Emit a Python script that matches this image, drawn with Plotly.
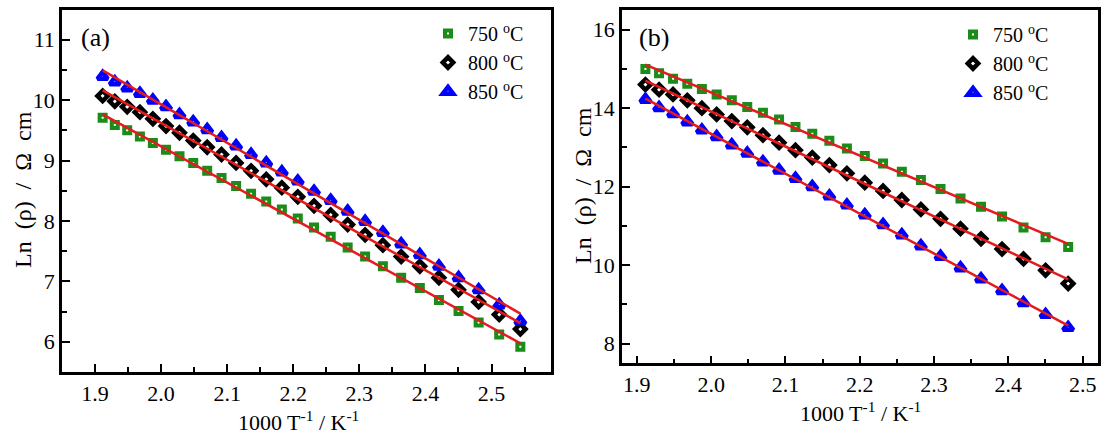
import numpy as np
import plotly.graph_objects as go

# ---- data (panel a) ----
x_a = [1.9115, 1.9299, 1.9487, 1.9679, 1.9875, 2.0074, 2.0278, 2.0486, 2.0697,
       2.0914, 2.1135, 2.1361, 2.1591, 2.1827, 2.2068, 2.2314, 2.2566, 2.2823,
       2.3087, 2.3356, 2.3632, 2.3915, 2.4204, 2.4501, 2.4805, 2.5116, 2.5436]
a_750 = [9.71, 9.59, 9.50, 9.40, 9.29, 9.18, 9.07, 8.96, 8.83, 8.71, 8.58, 8.45,
         8.32, 8.19, 8.04, 7.89, 7.74, 7.56, 7.41, 7.25, 7.06, 6.89, 6.69, 6.51,
         6.32, 6.12, 5.92]
a_800 = [10.07, 9.98, 9.89, 9.80, 9.69, 9.57, 9.46, 9.33, 9.22, 9.10, 8.96, 8.83,
         8.69, 8.55, 8.40, 8.25, 8.10, 7.94, 7.77, 7.60, 7.41, 7.25, 7.06, 6.86,
         6.66, 6.45, 6.21]
a_850 = [10.39, 10.30, 10.20, 10.11, 10.00, 9.89, 9.76, 9.64, 9.51, 9.38, 9.24,
         9.10, 8.96, 8.81, 8.66, 8.49, 8.34, 8.16, 7.99, 7.81, 7.62, 7.44, 7.25,
         7.06, 6.86, 6.61, 6.34]

# ---- data (panel b) ----
x_b = [1.9115, 1.9299, 1.9487, 1.9679, 1.9875, 2.0074, 2.0278, 2.0486, 2.0697,
       2.0914, 2.1135, 2.1361, 2.1591, 2.1827, 2.2068, 2.2314, 2.2566, 2.2823,
       2.3087, 2.3356, 2.3632, 2.3915, 2.4204, 2.4501, 2.4805]
b_750 = [15.00, 14.89, 14.75, 14.62, 14.49, 14.35, 14.20, 14.03, 13.88, 13.71,
         13.52, 13.35, 13.17, 12.97, 12.78, 12.59, 12.38, 12.17, 11.94, 11.70,
         11.49, 11.24, 10.96, 10.71, 10.46]
b_800 = [14.60, 14.47, 14.35, 14.20, 14.00, 13.84, 13.67, 13.51, 13.31, 13.12,
         12.93, 12.74, 12.55, 12.34, 12.10, 11.89, 11.66, 11.42, 11.18, 10.93,
         10.67, 10.41, 10.16, 9.87, 9.53]
b_850 = [14.22, 14.01, 13.86, 13.65, 13.44, 13.27, 13.06, 12.85, 12.63, 12.42,
         12.21, 12.00, 11.76, 11.53, 11.28, 11.03, 10.77, 10.49, 10.22, 9.93,
         9.65, 9.35, 9.04, 8.74, 8.41]

labels = ["750 <sup>o</sup>C", "800 <sup>o</sup>C", "850 <sup>o</sup>C"]
colors = ["#1a8c1a", "#000000", "#0000ff"]
symbols = ["square", "diamond", "triangle-up"]
sizes = [6, 8, 9]
lws = [4, 4.5, 4.5]

FONT = "Times New Roman, Liberation Serif, serif"
W, H = 1104, 433

fig = go.Figure()

panels = [
    ("x", "y", "legend", x_a, [a_750, a_800, a_850]),
    ("x2", "y2", "legend2", x_b, [b_750, b_800, b_850]),
]
for xa, ya, lg, xs, series in panels:
    for i, ys in enumerate(series):
        fig.add_trace(go.Scatter(
            x=xs, y=ys, mode="markers", name=labels[i], xaxis=xa, yaxis=ya,
            legend=lg,
            marker=dict(symbol=symbols[i], size=sizes[i], color="white",
                        line=dict(color=colors[i], width=lws[i]))))
    for ys in series:
        k, b = np.polyfit(xs, ys, 1)
        xe = [xs[0], xs[-1]]
        fig.add_trace(go.Scatter(
            x=xe, y=[k * v + b for v in xe], mode="lines", xaxis=xa, yaxis=ya,
            showlegend=False, line=dict(color="#e41a1c", width=2.5)))

def px_x(p):
    return p / W

def px_y(p):
    return 1 - p / H

axis_common = dict(
    showline=True, linecolor="black", linewidth=2.5, mirror=True,
    ticks="inside", ticklen=8, tickwidth=2, tickcolor="black",
    showgrid=False, zeroline=False,
    tickfont=dict(family=FONT, size=22, color="black"),
)

fig.update_layout(
    width=W, height=H, margin=dict(l=0, r=0, t=0, b=0),
    paper_bgcolor="white", plot_bgcolor="white",
    font=dict(family=FONT, color="black", size=21),
    xaxis=dict(domain=[px_x(62), px_x(551)], range=[1.85, 2.59], tick0=1.9,
               dtick=0.1, tickformat=".1f", anchor="y",
               minor=dict(ticks="inside", ticklen=5, tickwidth=2, dtick=0.05,
                          tick0=1.9, tickcolor="black"),
               **axis_common),
    yaxis=dict(domain=[px_y(372), px_y(9.5)], range=[5.5, 11.5], dtick=1,
               anchor="x",
               minor=dict(ticks="inside", ticklen=5, tickwidth=2, dtick=0.5,
                          tickcolor="black"),
               **axis_common),
    xaxis2=dict(domain=[px_x(622), px_x(1097.5)], range=[1.88, 2.52], tick0=1.9,
                dtick=0.1, tickformat=".1f", anchor="y2",
                minor=dict(ticks="inside", ticklen=5, tickwidth=2, dtick=0.05,
                           tick0=1.9, tickcolor="black"),
                **axis_common),
    yaxis2=dict(domain=[px_y(363.3), px_y(10)], range=[7.5, 16.5], dtick=2,
                anchor="x2",
                minor=dict(ticks="inside", ticklen=5, tickwidth=2, dtick=1,
                           tickcolor="black"),
                **axis_common),
    legend=dict(x=px_x(428), y=px_y(14), xanchor="left", yanchor="top",
                bgcolor="rgba(0,0,0,0)", tracegroupgap=0,
                font=dict(family=FONT, size=20, color="black")),
    legend2=dict(x=px_x(953), y=px_y(15), xanchor="left", yanchor="top",
                 bgcolor="rgba(0,0,0,0)", tracegroupgap=0,
                 font=dict(family=FONT, size=20, color="black")),
)

sp = " \u00a0"
ytitle = "Ln" + sp + "(ρ)" + sp + "/" + sp + "Ω" + sp + "cm"
xtitle = "1000 T<sup>-1</sup> / K<sup>-1</sup>"
ann = [
    dict(text="(a)", x=px_x(79), y=px_y(37), xanchor="left", yanchor="middle",
         size=26),
    dict(text="(b)", x=px_x(637), y=px_y(37), xanchor="left", yanchor="middle",
         size=26),
    dict(text=ytitle, x=px_x(23), y=px_y(190), textangle=-90,
         xanchor="center", yanchor="middle", size=24),
    dict(text=ytitle, x=px_x(583), y=px_y(186), textangle=-90,
         xanchor="center", yanchor="middle", size=24),
    dict(text=xtitle, x=px_x(298), y=px_y(421), xanchor="center",
         yanchor="middle", size=22),
    dict(text=xtitle, x=px_x(860), y=px_y(412), xanchor="center",
         yanchor="middle", size=22),
]
for a in ann:
    s = a.pop("size")
    a.update(xref="paper", yref="paper", showarrow=False,
             font=dict(family=FONT, size=s, color="black"))
    fig.add_annotation(**a)

fig.write_html("out.html")
